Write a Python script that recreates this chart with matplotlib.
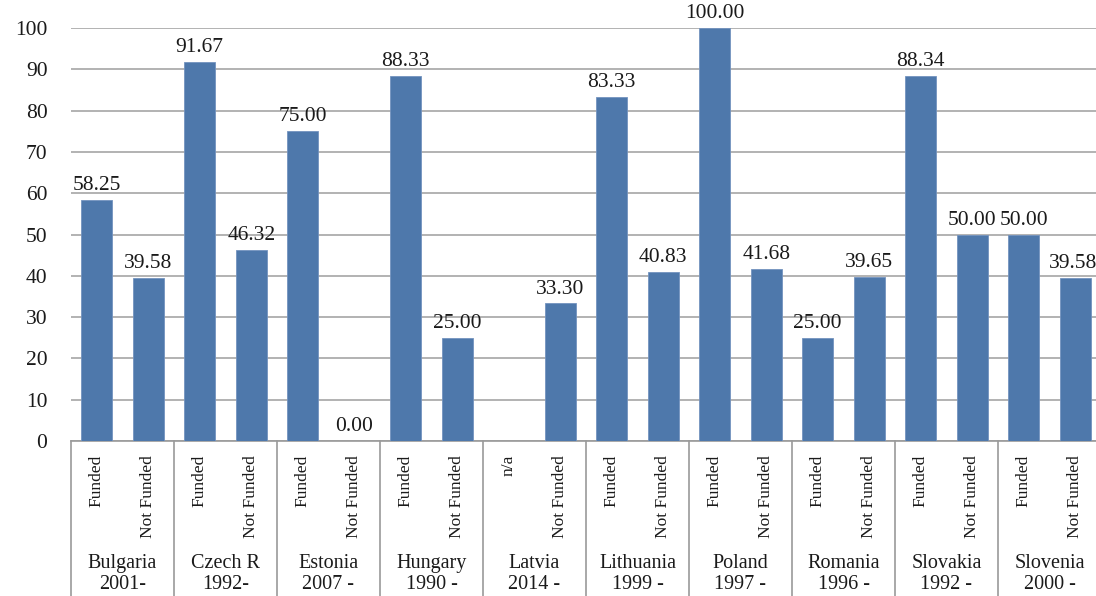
import numpy as np
import matplotlib
matplotlib.use('Agg')
import matplotlib.pyplot as plt

countries = ['Bulgaria', 'Czech R', 'Estonia', 'Hungary', 'Latvia',
             'Lithuania', 'Poland', 'Romania', 'Slovakia', 'Slovenia']
years = ['2001-', '1992-', '2007 -', '1990 -', '2014 -',
         '1999 -', '1997 -', '1996 -', '1992 -', '2000 -']
funded = [58.25, 91.67, 75.00, 88.33, np.nan, 83.33, 100.00, 25.00, 88.34, 50.00]
not_funded = [39.58, 46.32, 0.00, 25.00, 33.30, 40.83, 41.68, 39.65, 50.00, 39.58]
funded_labels = ['Funded', 'Funded', 'Funded', 'Funded', 'n/a',
                 'Funded', 'Funded', 'Funded', 'Funded', 'Funded']

plt.rcParams['font.family'] = ['Liberation Serif', 'DejaVu Serif']
txt = '#1a1a1a'
bar_color = '#4e78ab'

fig = plt.figure(figsize=(10.96, 5.96), dpi=100)
ax = fig.add_axes([71/1096, 1 - 441/596, 1030/1096, 413/596])

vals = []
labels = []
for i in range(len(countries)):
  vals += [funded[i], not_funded[i]]
  labels += [funded_labels[i], 'Not Funded']
x = np.arange(len(vals))

ax.bar(x, vals, width=0.6, color=bar_color, edgecolor='#7393bf', linewidth=0.6, zorder=3)
for xi, v in zip(x, vals):
  if np.isnan(v):
    continue
  # last label gets pushed inside the frame, like the original
  ha = 'right' if xi == x[-1] else 'center'
  xt = xi + 0.42 if xi == x[-1] else xi
  ax.text(xt, v + 1.2, '%.2f' % v, ha=ha, va='bottom', fontsize=15.5,
          color=txt, clip_on=False, zorder=4)

ax.set_xlim(-0.5, len(vals) - 0.5)
ax.set_ylim(0, 100)
ax.set_yticks(range(0, 101, 10))
ax.yaxis.grid(True, color='#a6a6a6', linewidth=1.2, zorder=0)
ax.tick_params(axis='y', length=0, pad=17, labelsize=15.5, labelcolor=txt)
ax.set_xticks([])
for s in ['left', 'right', 'top']:
  ax.spines[s].set_visible(False)
ax.spines['bottom'].set_color('#9a9a9a')
ax.spines['bottom'].set_linewidth(1.2)

# category table below the axis
trans = ax.get_xaxis_transform()
for b in np.arange(-0.5, len(vals), 2):
  ax.plot([b, b], [0, -0.42], transform=trans, color='#9a9a9a', linewidth=1.2,
          clip_on=False)
for xi, lab in zip(x, labels):
  ax.text(xi, -0.034, lab, transform=trans, rotation=90, ha='center', va='top',
          fontsize=12.5, color=txt)
for i in range(len(countries)):
  ax.text(2 * i + 0.5, -0.297, countries[i], transform=trans, ha='center',
          va='center', fontsize=14.5, color=txt)
  ax.text(2 * i + 0.5, -0.347, years[i], transform=trans, ha='center',
          va='center', fontsize=14.5, color=txt)

fig.savefig('out.png', dpi=100)
